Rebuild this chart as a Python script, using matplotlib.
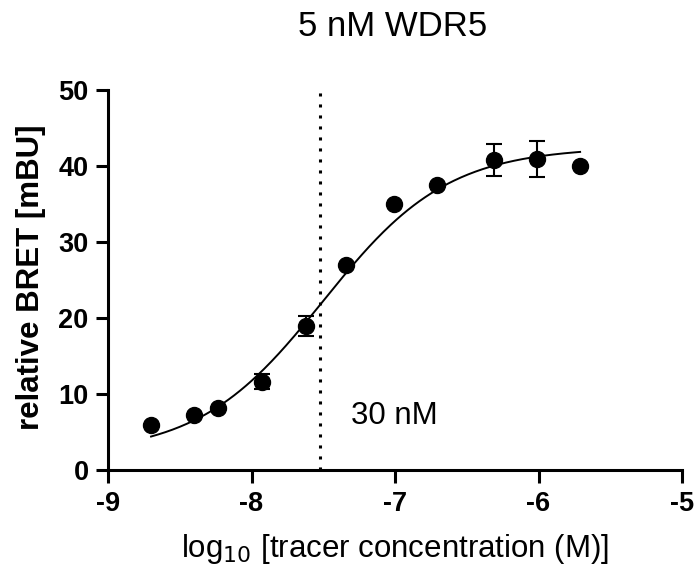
import numpy as np
import matplotlib
matplotlib.use("Agg")
import matplotlib.pyplot as plt

plt.rcParams['font.family'] = ['Liberation Sans', 'DejaVu Sans']

# data
log_conc = [-8.70, -8.40, -8.23, -7.93, -7.62, -7.34, -7.01, -6.71, -6.31, -6.01, -5.71]
bret = [5.9, 7.3, 8.1, 11.6, 18.9, 27.0, 35.0, 37.5, 40.8, 40.9, 40.0]
bret_err = [0.0, 0.0, 0.0, 1.0, 1.3, 0.0, 0.0, 0.0, 2.1, 2.4, 0.0]

# fitted sigmoid (bottom, top, logEC50, hill)
fit_bottom, fit_top, fit_logec50, fit_hill = 2.0, 42.5, -7.5, 1.0
kd_log = -7.52
kd_label = "30 nM"

fig = plt.figure(figsize=(6.94, 5.74), dpi=100)
ax = fig.add_axes([108 / 694, 1 - 470 / 574, 574 / 694, 380 / 574])

xf = np.linspace(log_conc[0], log_conc[-1], 300)
yf = fit_bottom + (fit_top - fit_bottom) / (1 + 10 ** ((fit_logec50 - xf) * fit_hill))
ax.plot(xf, yf, color='black', lw=1.4, zorder=2)

ax.errorbar(log_conc, bret, yerr=bret_err, fmt='o', color='black', ms=11.5,
            ecolor='black', elinewidth=1.5, capsize=5.5, capthick=1.5, zorder=3)

ax.plot([kd_log, kd_log], [0, 50], color='black', lw=2.2,
        linestyle=(0, (1, 2.6)), zorder=1)
ax.text(-7.31, 7.1, kd_label, fontsize=22.5, ha='left', va='center')

ax.set_xlim(-9, -5)
ax.set_ylim(0, 50)
ax.set_xticks([-9, -8, -7, -6, -5])
ax.set_yticks([0, 10, 20, 30, 40, 50])
ax.set_xticklabels(['-9', '-8', '-7', '-6', '-5'], fontweight='bold')
ax.set_yticklabels(['0', '10', '20', '30', '40', '50'], fontweight='bold')
ax.tick_params(labelsize=19.5, width=2.2, length=9, direction='out')
ax.tick_params(axis='x', pad=6)
ax.tick_params(axis='y', pad=5)

for s in ['top', 'right']:
    ax.spines[s].set_visible(False)
for s in ['left', 'bottom']:
    ax.spines[s].set_linewidth(2.2)
ax.patch.set_visible(False)
for sp in ax.spines.values():
    sp.set_clip_on(False)

ax.set_xlabel('log$_{10}$ [tracer concentration (M)]', fontsize=22.5)
ax.xaxis.set_label_coords(0.5, -0.208)
ax.xaxis.label.set_verticalalignment('center')
ax.set_ylabel('relative BRET [mBU]', fontsize=22.5, fontweight='bold')
ax.yaxis.set_label_coords(-0.135, 0.507)
ax.yaxis.label.set_verticalalignment('center')
fig.text(393 / 694, 1 - 27 / 574, '5 nM WDR5', fontsize=25, ha='center', va='center')

fig.savefig('out.png', dpi=100)
